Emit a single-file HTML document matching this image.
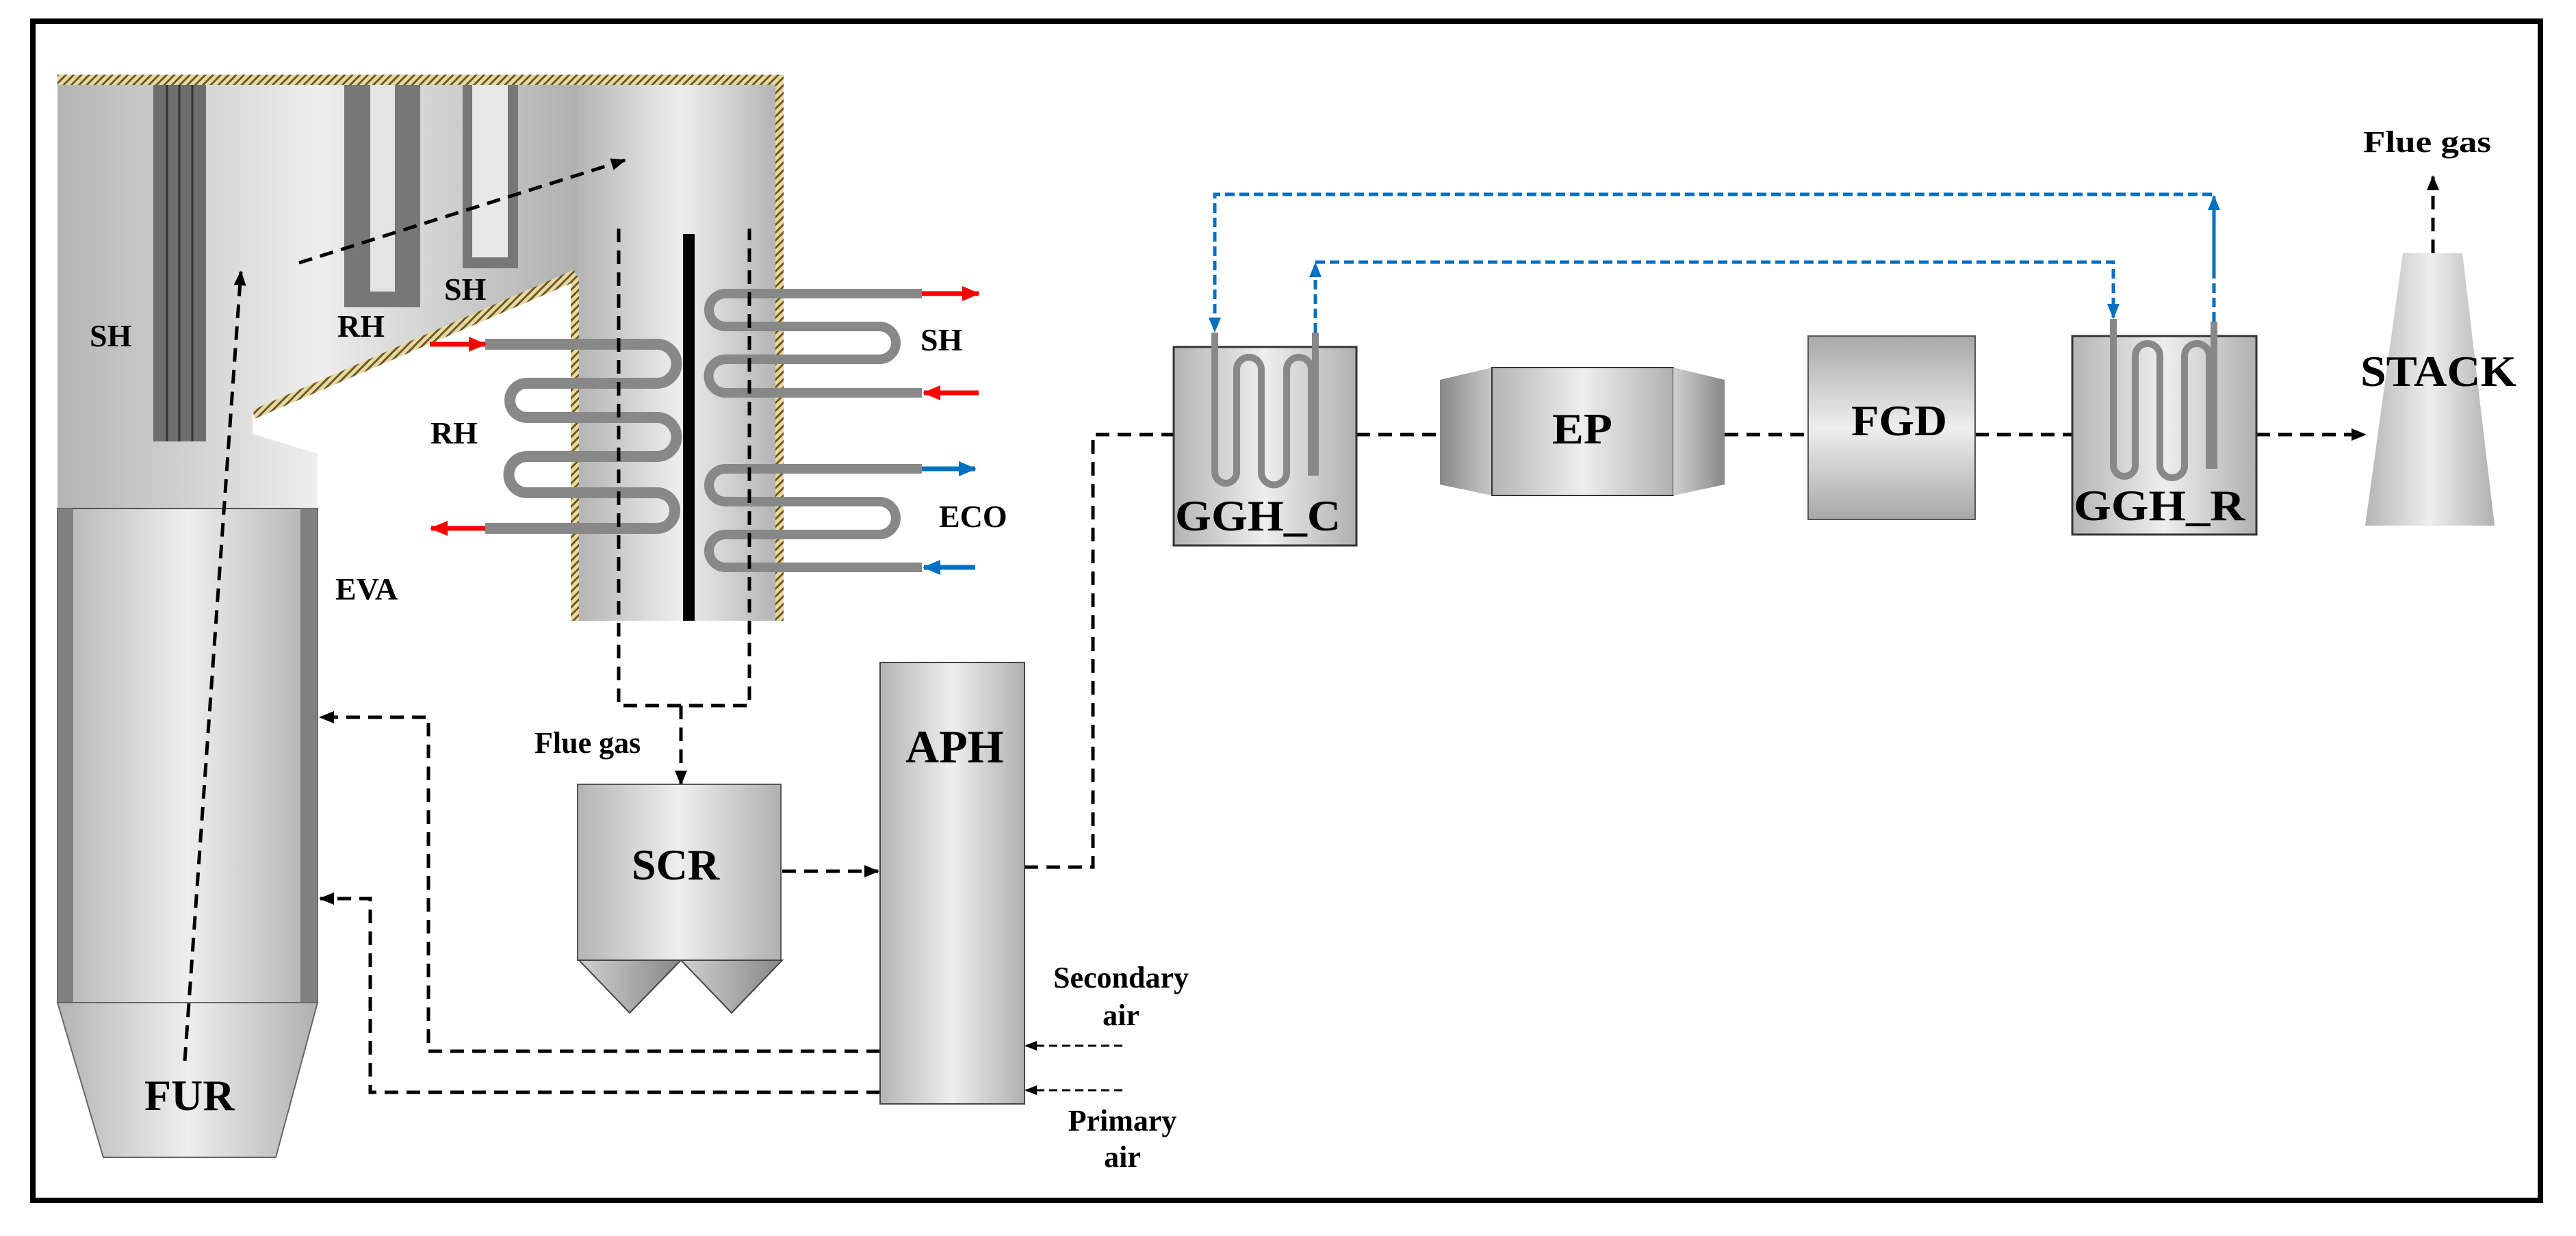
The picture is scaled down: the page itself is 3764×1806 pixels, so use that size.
<!DOCTYPE html>
<html><head><meta charset="utf-8"><style>html,body{margin:0;padding:0;background:#fff}svg{display:block}</style></head>
<body>
<svg width="3764" height="1806" viewBox="0 0 3764 1806" xmlns="http://www.w3.org/2000/svg" font-family="'Liberation Serif', serif" font-weight="bold">
<defs>
<linearGradient id="g" x1="0" x2="1" y1="0" y2="0"><stop offset="0" stop-color="#b4b4b4"/><stop offset="0.5" stop-color="#eeeeee"/><stop offset="1" stop-color="#b0b0b0"/></linearGradient>
<linearGradient id="gv" x1="0" x2="0" y1="0" y2="1"><stop offset="0" stop-color="#a8a8a8"/><stop offset="0.5" stop-color="#eeeeee"/><stop offset="1" stop-color="#a8a8a8"/></linearGradient>
<linearGradient id="gd" x1="0" x2="1"><stop offset="0" stop-color="#888"/><stop offset="1" stop-color="#c8c8c8"/></linearGradient>
<linearGradient id="gd2" x1="0" x2="1"><stop offset="0" stop-color="#d0d0d0"/><stop offset="1" stop-color="#888"/></linearGradient>
<pattern id="h" width="8" height="8" patternUnits="userSpaceOnUse" patternTransform="rotate(45)"><rect width="8" height="8" fill="#e8d9a0"/><rect width="3" height="8" fill="#6b5a2a"/></pattern>
<marker id="a" markerWidth="22" markerHeight="18" refX="20" refY="9" orient="auto" markerUnits="userSpaceOnUse"><path d="M0,0 L22,9 L0,18 z" fill="#000"/></marker>
<marker id="as" markerWidth="18" markerHeight="14" refX="16" refY="7" orient="auto" markerUnits="userSpaceOnUse"><path d="M0,0 L18,7 L0,14 z" fill="#000"/></marker>
<marker id="ab" markerWidth="22" markerHeight="18" refX="20" refY="9" orient="auto" markerUnits="userSpaceOnUse"><path d="M0,0 L22,9 L0,18 z" fill="#0070c0"/></marker>
<marker id="ar" markerWidth="26" markerHeight="22" refX="24" refY="11" orient="auto" markerUnits="userSpaceOnUse"><path d="M0,0 L26,11 L0,22 z" fill="#ff0000"/></marker>
<marker id="abl" markerWidth="26" markerHeight="22" refX="24" refY="11" orient="auto" markerUnits="userSpaceOnUse"><path d="M0,0 L26,11 L0,22 z" fill="#0070c0"/></marker>
</defs>

<rect x="48" y="31" width="3664" height="1723" fill="none" stroke="#000" stroke-width="8"/>

<path d="M84,124 L844,124 L844,403 L369,599 L369,634 L464,663 L464,743 L84,743 Z" fill="url(#g)"/>
<rect x="844" y="124" width="301" height="783" fill="url(#g)"/>
<rect x="84" y="743" width="380" height="722" fill="url(#g)" stroke="#555" stroke-width="2"/>
<rect x="84" y="743" width="23" height="722" fill="#808080"/>
<rect x="439" y="743" width="25" height="722" fill="#808080"/>
<path d="M84,1465 L464,1465 L403,1691 L151,1691 Z" fill="url(#g)" stroke="#666" stroke-width="2"/>
<rect x="84" y="109" width="1061" height="15" fill="url(#h)"/>
<rect x="1133" y="124" width="12" height="783" fill="url(#h)"/>
<rect x="834" y="403" width="12" height="504" fill="url(#h)"/>
<path d="M369,599 L839,394 L844,410 L372,612 Z" fill="url(#h)"/>

<rect x="224" y="124" width="77" height="521" fill="#6e6e6e"/>
<line x1="244" y1="124" x2="244" y2="645" stroke="#333" stroke-width="3"/>
<line x1="262" y1="124" x2="262" y2="645" stroke="#333" stroke-width="3"/>
<line x1="281" y1="124" x2="281" y2="645" stroke="#333" stroke-width="3"/>
<path d="M503,124 L614,124 L614,449 L503,449 Z" fill="#777"/>
<rect x="541" y="124" width="36" height="302" fill="#e4e4e4"/>
<rect x="676" y="124" width="81" height="268" fill="#777"/>
<rect x="690" y="124" width="52" height="252" fill="#e8e8e8"/>

<rect x="998" y="342" width="17" height="565" fill="#000"/>

<path d="M709,503 L960,503 A15,15 0 0 1 960,560 L770,560 A14,14 0 0 0 770,610 L960,610 A15,15 0 0 1 960,667 L770,667 A14,14 0 0 0 770,720 L960,720 A15,15 0 0 1 960,772 L709,772" fill="none" stroke="#888" stroke-width="16"/>
<path d="M1347,429 L1060,429 A24,24 0 0 0 1060,477 L1285,477 A24,24 0 0 1 1285,525 L1060,525 A24,24 0 0 0 1060,574 L1347,574" fill="none" stroke="#888" stroke-width="14"/>
<path d="M1347,685 L1060,685 A24,24 0 0 0 1060,733 L1285,733 A24,24 0 0 1 1285,781 L1060,781 A24,24 0 0 0 1060,829 L1347,829" fill="none" stroke="#888" stroke-width="14"/>

<line x1="628" y1="503" x2="709" y2="503" stroke="#ff0000" stroke-width="7" marker-end="url(#ar)"/>
<line x1="709" y1="772" x2="630" y2="772" stroke="#ff0000" stroke-width="7" marker-end="url(#ar)"/>
<line x1="1347" y1="429" x2="1430" y2="429" stroke="#ff0000" stroke-width="7" marker-end="url(#ar)"/>
<line x1="1430" y1="574" x2="1350" y2="574" stroke="#ff0000" stroke-width="7" marker-end="url(#ar)"/>
<line x1="1347" y1="685" x2="1425" y2="685" stroke="#0070c0" stroke-width="7" marker-end="url(#abl)"/>
<line x1="1425" y1="829" x2="1350" y2="829" stroke="#0070c0" stroke-width="7" marker-end="url(#abl)"/>

<g fill="none" stroke="#000" stroke-width="5" stroke-dasharray="20,12">
<line x1="270" y1="1550" x2="352" y2="397" marker-end="url(#a)"/>
<line x1="437" y1="384" x2="913" y2="234" marker-end="url(#a)"/>
<path d="M904,334 L904,1031 L1095,1031 L1095,334"/>
<line x1="995" y1="1031" x2="995" y2="1146" marker-end="url(#a)"/>
<line x1="1143" y1="1273" x2="1283" y2="1273" marker-end="url(#a)"/>
<path d="M1286,1536 L626,1536 L626,1048 L468,1048" marker-end="url(#a)"/>
<path d="M1286,1596 L541,1596 L541,1313 L468,1313" marker-end="url(#a)"/>
<path d="M1497,1267 L1597,1267 L1597,635 L1715,635"/>
<line x1="1982" y1="635" x2="2104" y2="635"/>
<line x1="2520" y1="635" x2="2642" y2="635"/>
<line x1="2886" y1="635" x2="3028" y2="635"/>
<line x1="3297" y1="635" x2="3456" y2="635" marker-end="url(#a)"/>
<line x1="3555" y1="370" x2="3555" y2="258" marker-end="url(#a)"/>
</g>
<g fill="none" stroke="#000" stroke-width="3" stroke-dasharray="12,7">
<line x1="1640" y1="1528" x2="1499" y2="1528" marker-end="url(#as)"/>
<line x1="1640" y1="1593" x2="1499" y2="1593" marker-end="url(#as)"/>
</g>

<rect x="844" y="1146" width="297" height="257" fill="url(#g)" stroke="#555" stroke-width="2"/>
<path d="M846,1403 L995,1403 L920,1480 Z" fill="url(#gd2)" stroke="#444" stroke-width="2"/>
<path d="M995,1403 L1143,1403 L1069,1480 Z" fill="url(#gd2)" stroke="#444" stroke-width="2"/>
<rect x="1286" y="968" width="211" height="645" fill="url(#g)" stroke="#444" stroke-width="2"/>

<rect x="1715" y="507" width="267" height="290" fill="url(#g)" stroke="#333" stroke-width="3"/>
<path d="M1775,486 L1775,690 A16,16 0 0 0 1807,690 L1807,540 A18,18 0 0 1 1843,540 L1843,690 A18,18 0 0 0 1880,690 L1880,540 A18,18 0 0 1 1916,540 L1916,690 L1922,690 L1922,486" fill="none" stroke="#888" stroke-width="10"/>
<path d="M2104,555 L2180,537 L2180,724 L2104,708 Z" fill="url(#gd)"/>
<rect x="2180" y="537" width="265" height="187" fill="url(#g)" stroke="#333" stroke-width="2"/>
<path d="M2445,537 L2520,555 L2520,708 L2445,724 Z" fill="url(#gd2)"/>
<rect x="2642" y="491" width="244" height="268" fill="url(#gv)" stroke="#555" stroke-width="2"/>
<rect x="3028" y="491" width="269" height="290" fill="url(#g)" stroke="#333" stroke-width="3"/>
<path d="M3088,466 L3088,680 A16,16 0 0 0 3120,680 L3120,520 A18,18 0 0 1 3156,520 L3156,680 A18,18 0 0 0 3192,680 L3192,520 A18,18 0 0 1 3228,520 L3228,680 L3235,680 L3235,470" fill="none" stroke="#888" stroke-width="10"/>
<path d="M3511,370 L3598,370 L3645,768 L3456,768 Z" fill="url(#g)"/>

<g fill="none" stroke="#0070c0" stroke-width="5" stroke-dasharray="14,7">
<path d="M3235,470 L3235,284 L1775,284 L1775,484" marker-end="url(#ab)"/>
<path d="M1922,486 L1922,385" marker-end="url(#ab)"/>
<path d="M1922,383 L3088,383 L3088,464" marker-end="url(#ab)"/>
<path d="M3235,400 L3235,287" marker-end="url(#ab)"/>
</g>

<g fill="#000" font-size="46">
<text x="131" y="506">SH</text>
<text x="493" y="492">RH</text>
<text x="649" y="438">SH</text>
<text x="629" y="648">RH</text>
<text x="1345" y="512">SH</text>
<text x="1372" y="770">ECO</text>
<text x="490" y="876">EVA</text>
<text x="781" y="1100" font-size="44">Flue gas</text>
<text x="211" y="1622" font-size="64">FUR</text>
<text x="923" y="1285" font-size="64">SCR</text>
<text x="1323" y="1114" font-size="68">APH</text>
<text x="1638" y="1443" font-size="44" text-anchor="middle">Secondary</text>
<text x="1638" y="1498" font-size="44" text-anchor="middle">air</text>
<text x="1640" y="1652" font-size="44" text-anchor="middle">Primary</text>
<text x="1640" y="1705" font-size="44" text-anchor="middle">air</text>
<text x="1717" y="775" font-size="64" textLength="242" lengthAdjust="spacingAndGlyphs">GGH_C</text>
<text x="3030" y="760" font-size="64" textLength="250" lengthAdjust="spacingAndGlyphs">GGH_R</text>
<text x="2268" y="648" font-size="64" textLength="88" lengthAdjust="spacingAndGlyphs">EP</text>
<text x="2705" y="636" font-size="64" textLength="140" lengthAdjust="spacingAndGlyphs">FGD</text>
<text x="3449" y="564" font-size="64" textLength="228" lengthAdjust="spacingAndGlyphs">STACK</text>
<text x="3453" y="222" font-size="44" textLength="187" lengthAdjust="spacingAndGlyphs">Flue gas</text>
</g>
</svg>
</body></html>
